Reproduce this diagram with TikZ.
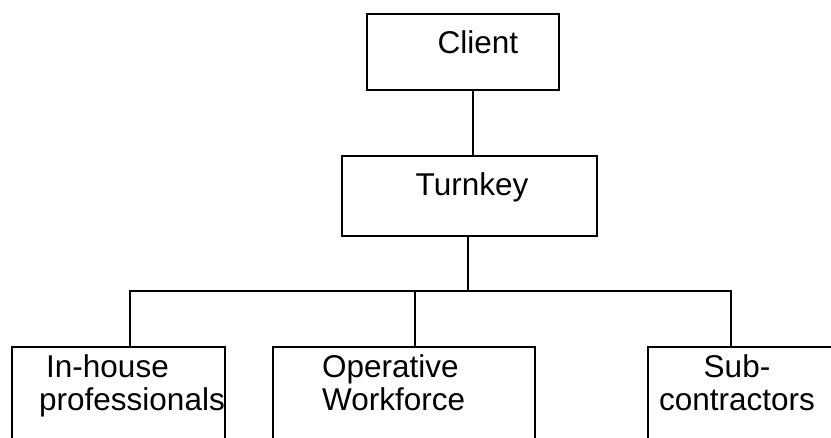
\documentclass[tikz,border=0pt]{standalone}
\usepackage{fontspec}
\setmainfont{Liberation Sans}
\begin{document}
\begin{tikzpicture}[x=1pt, y=-1pt,
    box/.style={draw, line width=2.2pt, inner sep=0pt},
    lbl/.style={font=\fontsize{31.5}{33}\selectfont, inner sep=0pt}]
        \useasboundingbox (0,0) rectangle (831,437);
        \clip (0,0) rectangle (831,437);

        \node[box, minimum width=192, minimum height=76] (client) at (463,52) {};
        \node[box, minimum width=255, minimum height=80] (turnkey) at (469.5,196) {};
        \node[box, minimum width=213, minimum height=130] (inhouse) at (118.5,412) {};
        \node[box, minimum width=262, minimum height=130] (operative) at (404,412) {};
        \node[box, minimum width=202, minimum height=130] (subcon) at (749,412) {};

        \node[lbl, anchor=base] (clientText) at (478,53) {Client};
        \node[lbl, anchor=base] (turnkeyText) at (472,195) {Turnkey};
        \node[lbl, anchor=base west, align=left] (inhouseText) at (39,410) {\hspace*{7pt}In-house\\professionals};
        \node[lbl, anchor=base west, align=left] (operativeText) at (322,410) {Operative\\Workforce};
        \node[lbl, anchor=base, align=center] (subconText) at (737,410) {Sub-\\contractors};

        \coordinate (hub) at (468,291);
        \draw[line width=2.2pt] ([xshift=10pt]client.south) -- ([xshift=10pt]client.south |- turnkey.north);
        \draw[line width=2.2pt] (turnkey.south -| hub) -- (hub);
        \draw[line width=2.2pt] ([xshift=11.5pt]inhouse.north) |- (hub) -| ([xshift=-18pt]subcon.north);
        \draw[line width=2.2pt] ([xshift=11pt]operative.north) -- ([xshift=11pt]operative.north |- hub);
\end{tikzpicture}
\end{document}
